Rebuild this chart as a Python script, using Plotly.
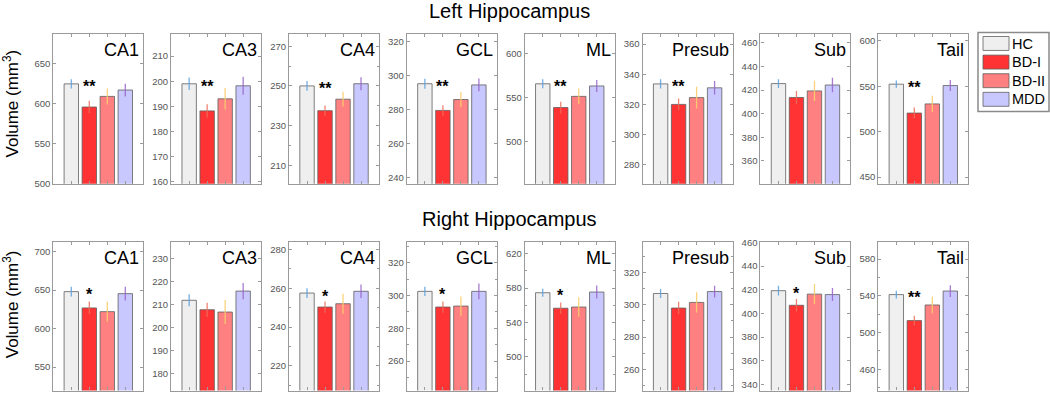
import plotly.graph_objects as go

W, H = 1050, 397
FONT = "Liberation Sans, Arial, sans-serif"

regions = ["CA1", "CA3", "CA4", "GCL", "ML", "Presub", "Sub", "Tail"]
groups = ["HC", "BD-I", "BD-II", "MDD"]
bar_colors = ["#efefef", "#ff3333", "#ff8080", "#c8c8ff"]
err_colors = ["rgba(90,160,220,0.85)", "rgba(235,110,90,0.85)",
              "rgba(250,205,110,0.9)", "rgba(150,100,200,0.85)"]

# ---- Left hippocampus (means, mm^3) ----
left_hc = [625, 199, 250, 295.3, 566, 333.6, 425.5, 552.3]
left_bd1 = [596, 188.2, 237.5, 279.6, 539, 320, 413.7, 520.5]
left_bd2 = [609.3, 193, 243.3, 286, 551.7, 324.5, 419.3, 530.6]
left_mdd = [617.3, 198.2, 251.1, 294.6, 563.5, 331, 424.3, 550.8]
# error bars (SEM)
left_hc_err = [5.7, 2.5, 2.5, 2.9, 5, 3.1, 3.7, 4]
left_bd1_err = [7.7, 2.6, 2.6, 3.1, 6.7, 3.9, 5.6, 6.1]
left_bd2_err = [10, 4.3, 3.7, 4.4, 8.9, 7.2, 8.6, 9]
left_mdd_err = [8, 3.6, 3.3, 3.8, 6.7, 4.5, 6.1, 6.1]
left_stars = ["**", "**", "**", "**", "**", "**", "", "**"]

# ---- Right hippocampus ----
right_hc = [648, 212, 257.5, 302.6, 574.6, 306.9, 419.2, 541.3]
right_bd1 = [626.8, 207.9, 250.3, 293, 556.6, 297.9, 406.9, 513]
right_bd2 = [622, 206.9, 252, 293.6, 558, 301.4, 416.3, 530]
right_mdd = [645.4, 216, 258.4, 302.6, 575.4, 308.1, 415.9, 545.2]
right_hc_err = [6.4, 2.6, 2.5, 2.8, 4.7, 2.8, 4.1, 4.3]
right_bd1_err = [8.3, 3, 2.9, 3.4, 6.8, 3.9, 5.2, 5.3]
right_bd2_err = [13, 5.2, 5.2, 5.9, 11.4, 6.3, 8.5, 8.9]
right_mdd_err = [8.9, 3.5, 3.5, 4.8, 7.6, 3.6, 5.5, 6.4]
right_stars = ["*", "", "*", "*", "*", "", "*", "**"]

# ---- axis settings ----
left_ymin = [500, 159.2, 200.7, 236.5, 452.6, 267.4, 340.5, 442.8]
left_ymax = [688, 219, 276.4, 324.8, 623, 367, 468, 608]
left_tick0 = [500, 160, 210, 240, 500, 280, 360, 450]
left_dtick = [50, 10, 20, 20, 50, 20, 20, 50]
left_minor = [None, None, 10, None, None, None, None, None]

right_ymin = [519.5, 172.8, 207.3, 242, 461, 246.9, 335, 436.9]
right_ymax = [713, 237.5, 284, 333, 634, 339, 460.6, 599]
right_tick0 = [550, 180, 220, 260, 500, 260, 340, 460]
right_dtick = [50, 10, 20, 20, 40, 20, 20, 40]
right_minor = [None, None, 10, 10, 20, 10, None, 20]

rows = [
    dict(title="Left Hippocampus",
         means=[left_hc, left_bd1, left_bd2, left_mdd],
         errs=[left_hc_err, left_bd1_err, left_bd2_err, left_mdd_err],
         ymin=left_ymin, ymax=left_ymax, tick0=left_tick0, dtick=left_dtick,
         minor=left_minor, stars=left_stars, top=29.3, bottom=183.3,
         title_y=6, ylab_y=101),
    dict(title="Right Hippocampus",
         means=[right_hc, right_bd1, right_bd2, right_mdd],
         errs=[right_hc_err, right_bd1_err, right_bd2_err, right_mdd_err],
         ymin=right_ymin, ymax=right_ymax, tick0=right_tick0, dtick=right_dtick,
         minor=right_minor, stars=right_stars, top=242.7, bottom=395.5,
         title_y=220, ylab_y=307),
]

panel_x0 = 53.3
panel_step = 117.86
panel_w = 90.0
frame_col = "#9a9a9a"

fig = go.Figure()
layout = {}
annotations = []
n = 0
for r, row in enumerate(rows):
    for i, reg in enumerate(regions):
        n += 1
        sfx = "" if n == 1 else str(n)
        xa, ya = "x" + sfx, "y" + sfx
        for g, grp in enumerate(groups):
            fig.add_trace(go.Bar(
                x=[g + 1], y=[row["means"][g][i]], width=0.8, name=grp,
                marker=dict(color=bar_colors[g],
                            line=dict(color="rgba(95,95,95,0.8)", width=1)),
                error_y=dict(type="data", array=[row["errs"][g][i]],
                             color=err_colors[g], thickness=1.3, width=0),
                xaxis=xa, yaxis=ya, showlegend=False, hoverinfo="y"))
        px0 = panel_x0 + i * panel_step
        px1 = px0 + panel_w
        x0, x1 = px0 / W, px1 / W
        y0, y1 = 1 - row["bottom"] / H, 1 - row["top"] / H
        layout["xaxis" + sfx] = dict(
            domain=[x0, x1], range=[0, 5], anchor=ya, tickvals=[1, 2, 3, 4],
            showticklabels=False, ticks="inside", ticklen=3, tickcolor=frame_col,
            showline=True, mirror="ticks", linecolor=frame_col, linewidth=1.2,
            showgrid=False, zeroline=False, fixedrange=True)
        yax = dict(
            domain=[y0, y1], range=[row["ymin"][i], row["ymax"][i]], anchor=xa,
            tick0=row["tick0"][i], dtick=row["dtick"][i],
            ticks="inside", ticklen=3, tickcolor=frame_col,
            showline=True, mirror="ticks", linecolor=frame_col, linewidth=1.2,
            showgrid=False, zeroline=False, fixedrange=True,
            tickfont=dict(family=FONT, size=9.5, color="#555555"))
        if row["minor"][i]:
            yax["minor"] = dict(dtick=row["minor"][i], tick0=row["tick0"][i],
                                ticks="inside", ticklen=2, tickcolor=frame_col,
                                showgrid=False)
        layout["yaxis" + sfx] = yax
        # region label
        annotations.append(dict(
            text=reg, xref="paper", yref="paper", x=(px1 - 2) / W,
            y=1 - (row["top"] + 5) / H, xanchor="right", yanchor="top",
            showarrow=False, font=dict(family=FONT, size=18, color="black")))
        # significance stars
        if row["stars"][i]:
            annotations.append(dict(
                text="<b>" + row["stars"][i] + "</b>", xref=xa, yref=ya,
                x=2, y=row["means"][0][i], xanchor="center", yanchor="middle",
                yshift=-3, showarrow=False,
                font=dict(family=FONT, size=16, color="black")))
    # row title
    annotations.append(dict(
        text=row["title"], xref="paper", yref="paper", x=509 / W,
        y=1 - row["title_y"] / H, xanchor="center", yanchor="middle",
        showarrow=False, font=dict(family=FONT, size=20, color="black")))
    # y-axis label
    annotations.append(dict(
        text="Volume (mm<sup>3</sup>)", xref="paper", yref="paper", x=11 / W,
        y=1 - row["ylab_y"] / H, xanchor="center", yanchor="middle",
        textangle=-90, showarrow=False,
        font=dict(family=FONT, size=17, color="black")))

# legend (drawn manually to match the boxed legend)
shapes = [dict(type="rect", xref="paper", yref="paper",
               x0=978 / W, x1=1049 / W, y0=1 - 109.3 / H, y1=1 - 28.3 / H,
               line=dict(color="#8a8a8a", width=1.5), fillcolor="white")]
for g, grp in enumerate(groups):
    top = 32.3 + g * 19.1
    shapes.append(dict(type="rect", xref="paper", yref="paper",
                       x0=983 / W, x1=1009 / W, y0=1 - (top + 14.3) / H,
                       y1=1 - top / H, fillcolor=bar_colors[g],
                       line=dict(color="rgba(95,95,95,0.8)", width=1)))
    annotations.append(dict(
        text=grp, xref="paper", yref="paper", x=1010 / W,
        y=1 - (top + 7.2) / H, xanchor="left", yanchor="middle",
        showarrow=False, font=dict(family=FONT, size=14.5, color="black")))

fig.update_layout(
    width=W, height=H, margin=dict(l=0, r=0, t=0, b=0),
    paper_bgcolor="white", plot_bgcolor="white", barmode="overlay",
    annotations=annotations, shapes=shapes, showlegend=False,
    font=dict(family=FONT), **layout)

fig.write_html(
    "out.html",
    config={"displayModeBar": False},
    post_script="document.body.style.margin='0';"
                "document.body.style.overflow='hidden';")
